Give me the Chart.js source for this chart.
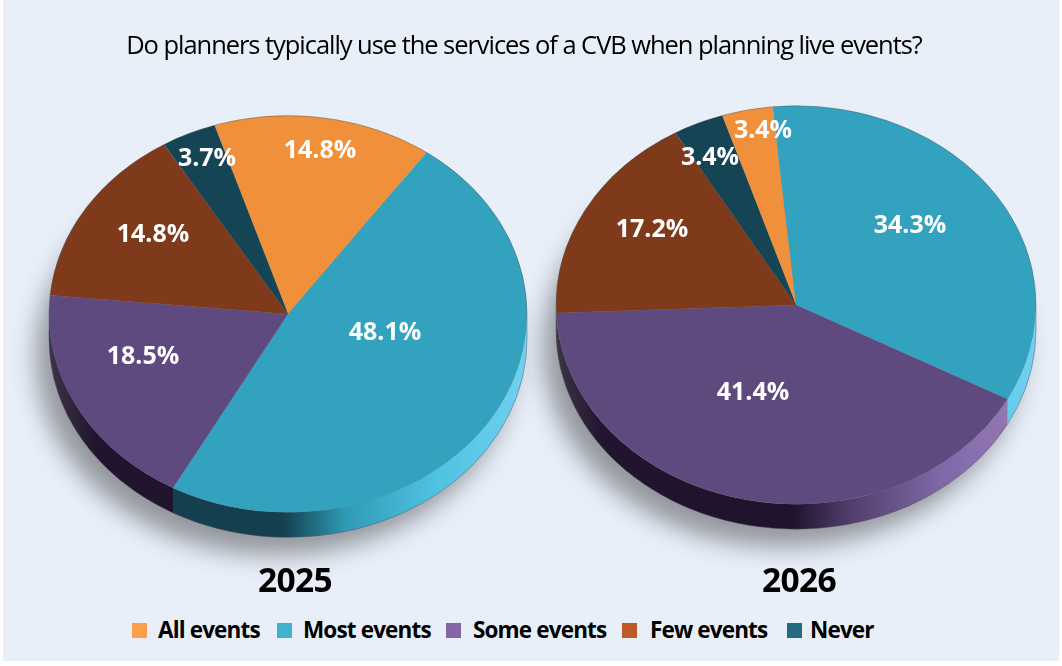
<!DOCTYPE html>
<html lang="en">
<head>
<meta charset="utf-8">
<title>CVB usage</title>
<script src="https://cdn.jsdelivr.net/npm/chart.js@4/dist/chart.umd.min.js"></script>
<style>
    html, body { margin: 0; padding: 0; }
    body { width: 1062px; height: 666px; position: relative; overflow: hidden; background: #fff; color: #000; }
    #panel { position: absolute; left: 3px; top: 0; width: 1056px; height: 661px; background: #e8eff9; }
    canvas { position: absolute; }
    #chart2025 { left: -12px; top: 14px; z-index: 2; }
    #chart2026 { left: 496px; top: 5px; z-index: 1; }
    #title { position: absolute; z-index: 3; left: 0; top: 27px; width: 1048px; text-align: center; font: 400 25.5px "Open Sans", sans-serif; letter-spacing: -1.05px; white-space: nowrap; }
    .year { position: absolute; z-index: 3; top: 556px; width: 200px; text-align: center; font: 700 33.5px "Open Sans", sans-serif; letter-spacing: -0.6px; }
    #year2025 { left: 195px; }
    #year2026 { left: 699px; }
    #legend { position: absolute; z-index: 3; top: 616px; left: 0; height: 28px; font: 700 22.5px "Open Sans", sans-serif; letter-spacing: -0.85px; white-space: nowrap; }
    #legend span { position: absolute; top: 0; line-height: 28px; }
    #legend i { position: absolute; top: 7px; width: 15px; height: 15px; }
</style>
</head>
<body>
<div id="panel"></div>
<div id="title">Do planners typically use the services of a CVB when planning live events?</div>
<canvas id="chart2025" width="600" height="600"></canvas>
<canvas id="chart2026" width="600" height="600"></canvas>
<div class="year" id="year2025"></div>
<div class="year" id="year2026"></div>
<div id="legend"></div>
<script>
// Data
const categories = ['All events', 'Most events', 'Some events', 'Few events', 'Never'];
const years = ['2025', '2026'];
const values2025 = [14.8, 48.1, 18.5, 14.8, 3.7];
const values2026 = [3.4, 34.3, 41.4, 17.2, 3.4];

// Slice colours
const topColors = ['#f0903a', '#33a2be', '#5f4a80', '#7e3a1b', '#154555'];
const legendColors = ['#ff9e4a', '#41b1ce', '#8366a8', '#bc5b25', '#256a7f'];
const sideStops = [0, 0.1, 0.49, 0.62, 0.8, 1];
const sideColors = [
    ['#a05a20', '#8a4a18', '#8a4a18', '#e08a38', '#f09a48', '#ffb060'],
    ['#1f5060', '#143f4e', '#143f4e', '#2f9ab5', '#4cc2e0', '#72d0f0'],
    ['#3d3448', '#20142f', '#1e122c', '#54406f', '#7f68a8', '#9a7cb8'],
    ['#4a2410', '#3a1a0a', '#3a1a0a', '#7e3a1b', '#a05028', '#b86030'],
    ['#1a3a46', '#10303c', '#10303c', '#1d5a6c', '#256a7f', '#2f7a90']
];

// Label spots for each slice, px from the pie centre
const labelOffsets2025 = [[32, -163], [97, 19], [-145, 43], [-135, -79], [-81, -155]];
const labelOffsets2026 = [[-33, -174], [114, -79], [-43, 88], [-144, -75], [-86, -147]];

const squash = 0.83;
const depth = 25;
const rotationDeg = -17.9;

// Tilted pie: shadow and side wall first, then the slices squeezed vertically
const tiltPlugin = {
    id: 'tilt',
    beforeDatasetsDraw(chart) {
        const ctx = chart.ctx;
        const arcs = chart.getDatasetMeta(0).data;
        const cx = arcs[0].x, cy = arcs[0].y, r = arcs[0].outerRadius;

        // soft grey shadow, low and to the left
        ctx.save();
        ctx.filter = 'blur(12px)';
        ctx.fillStyle = 'rgba(30, 28, 30, 0.42)';
        ctx.beginPath();
        ctx.ellipse(cx - 13, cy + depth + 18, r, r * squash, 0, 0, Math.PI * 2);
        ctx.fill();
        ctx.restore();

        arcs.forEach((arc, i) => {
            const grad = ctx.createLinearGradient(cx - r, 0, cx + r, 0);
            sideStops.forEach((s, k) => grad.addColorStop(s, sideColors[i][k]));
            const full = Math.PI * 2;
            // keep the part of the slice that faces the front
            [0, full, -full].forEach(shift => {
                const a0 = Math.max(arc.startAngle + shift, 0);
                const a1 = Math.min(arc.endAngle + shift, Math.PI);
                if (a1 <= a0) return;
                ctx.beginPath();
                ctx.ellipse(cx, cy, r, r * squash, 0, a0, a1);
                ctx.ellipse(cx, cy + depth, r, r * squash, 0, a1, a0, true);
                ctx.closePath();
                ctx.fillStyle = grad;
                ctx.fill();
            });
        });

        ctx.save();
        ctx.translate(cx, cy);
        ctx.scale(1, squash);
        ctx.translate(-cx, -cy);
    },
    afterDatasetsDraw(chart, args, opts) {
        const ctx = chart.ctx;
        ctx.restore();

        const arc0 = chart.getDatasetMeta(0).data[0];
        const cx = arc0.x, cy = arc0.y, r = arc0.outerRadius;

        // thin grey rim round the whole shape
        ctx.save();
        ctx.strokeStyle = 'rgba(80, 80, 85, 0.55)';
        ctx.lineWidth = 0.8;
        ctx.beginPath();
        ctx.ellipse(cx, cy, r, r * squash, 0, Math.PI, Math.PI * 2);
        ctx.ellipse(cx, cy + depth, r, r * squash, 0, 0, Math.PI);
        ctx.closePath();
        ctx.stroke();
        ctx.restore();

        ctx.save();
        ctx.fillStyle = '#fff';
        ctx.font = '700 25px "Open Sans", sans-serif';
        ctx.textAlign = 'center';
        ctx.textBaseline = 'middle';
        chart.data.datasets[0].data.forEach((v, i) => {
            const off = opts.offsets[i];
            ctx.fillText(v.toFixed(1) + '%', cx + off[0], cy + off[1]);
        });
        ctx.restore();
    }
};

function makePie(id, values, offsets, radius) {
    return new Chart(document.getElementById(id).getContext('2d'), {
        type: 'pie',
        data: {
            labels: categories,
            datasets: [{ data: values, backgroundColor: topColors, borderWidth: 0 }]
        },
        options: {
            responsive: false,
            animation: false,
            rotation: rotationDeg,
            radius: radius,
            plugins: {
                legend: { display: false },
                tooltip: { enabled: false },
                tilt: { offsets: offsets }
            }
        },
        plugins: [tiltPlugin]
    });
}

makePie('chart2025', values2025, labelOffsets2025, 239);
makePie('chart2026', values2026, labelOffsets2026, 240);

document.getElementById('year2025').textContent = years[0];
document.getElementById('year2026').textContent = years[1];

// Legend row
const legendBoxX = [132, 277, 446, 622, 787];
const legendTextX = [158, 303, 473, 650, 810];
const legendBox = document.getElementById('legend');
categories.forEach((name, i) => {
    const box = document.createElement('i');
    box.style.left = legendBoxX[i] + 'px';
    box.style.background = legendColors[i];
    const text = document.createElement('span');
    text.style.left = legendTextX[i] + 'px';
    text.textContent = name;
    legendBox.append(box, text);
});
</script>
</body>
</html>
